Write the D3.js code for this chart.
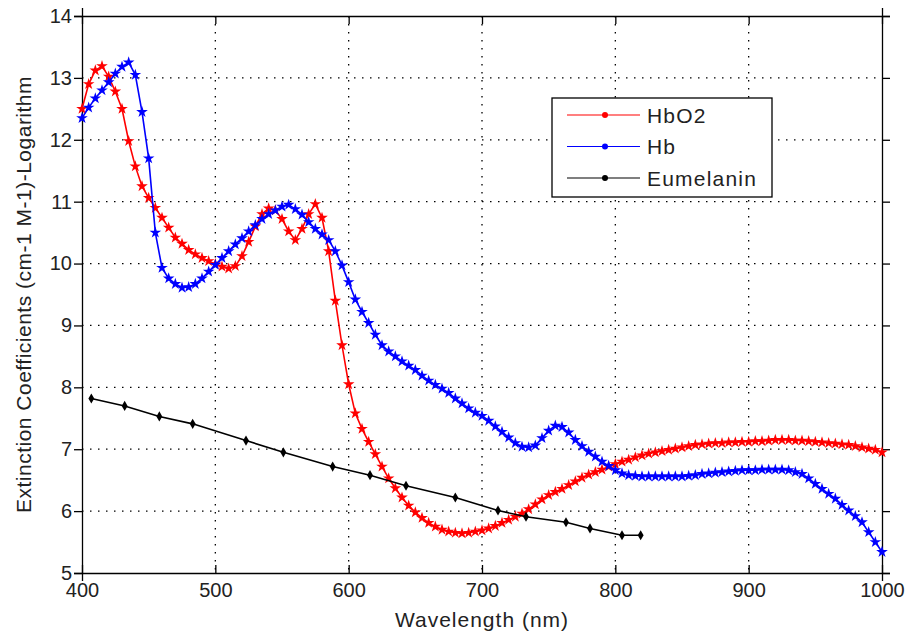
<!DOCTYPE html>
<html>
<head>
<meta charset="utf-8">
<script src="https://cdn.jsdelivr.net/npm/d3@7"></script>
<style>
  body { margin: 0; background: #fff; }
  svg { font-family: "Liberation Sans", Arial, sans-serif; }
</style>
</head>
<body>
<div class="container"></div>
<script>
const w = 907;
const h = 634;

const margin = { top: 16, right: 25, bottom: 61, left: 82 };

// sampling grid of the two haemoglobin curves (nm)
const wavelengths = d3.range(400, 1001, 5);

const hbo2 = [
  12.50, 12.90, 13.12, 13.19, 13.02, 12.78, 12.50, 11.98, 11.57, 11.25,
  11.06, 10.90, 10.74, 10.58, 10.42, 10.32, 10.22, 10.15, 10.09, 10.04,
  9.99, 9.95, 9.92, 9.96, 10.12, 10.35, 10.60, 10.80, 10.89, 10.86,
  10.72, 10.52, 10.38, 10.56, 10.80, 10.96, 10.74, 10.20, 9.40, 8.68,
  8.05, 7.58, 7.33, 7.12, 6.92, 6.72, 6.53, 6.37, 6.22, 6.09,
  5.98, 5.89, 5.81, 5.75, 5.70, 5.67, 5.65, 5.64, 5.65, 5.67,
  5.69, 5.72, 5.76, 5.81, 5.86, 5.91, 5.96, 6.03, 6.11, 6.19,
  6.26, 6.31, 6.36, 6.42, 6.48, 6.54, 6.59, 6.63, 6.67, 6.72,
  6.76, 6.80, 6.83, 6.87, 6.90, 6.93, 6.95, 6.97, 6.99, 7.01,
  7.03, 7.05, 7.07, 7.08, 7.09, 7.10, 7.10, 7.11, 7.11, 7.12,
  7.12, 7.13, 7.13, 7.14, 7.15, 7.15, 7.15, 7.14, 7.14, 7.13,
  7.12, 7.11, 7.10, 7.09, 7.08, 7.07, 7.05, 7.03, 7.01, 6.99,
  6.95
];

const hb = [
  12.35, 12.52, 12.67, 12.80, 12.93, 13.07, 13.18, 13.25, 13.05, 12.45,
  11.70, 10.50, 9.93, 9.76, 9.67, 9.61, 9.62, 9.67, 9.76, 9.87,
  9.98, 10.09, 10.20, 10.31, 10.41, 10.52, 10.62, 10.72, 10.80, 10.86,
  10.92, 10.95, 10.88, 10.79, 10.67, 10.56, 10.47, 10.38, 10.20, 9.97,
  9.70, 9.42, 9.22, 9.04, 8.85, 8.68, 8.58, 8.50, 8.42, 8.35,
  8.28, 8.19, 8.11, 8.04, 7.98, 7.91, 7.82, 7.74, 7.66, 7.59,
  7.54, 7.46, 7.37, 7.28, 7.19, 7.10, 7.04, 7.03, 7.06, 7.18,
  7.30, 7.38, 7.36, 7.27, 7.15, 7.05, 6.96, 6.88, 6.80, 6.73,
  6.66, 6.61, 6.58, 6.57, 6.56, 6.56, 6.56, 6.56, 6.56, 6.56,
  6.56, 6.57, 6.58, 6.60, 6.61, 6.62, 6.63, 6.64, 6.65, 6.66,
  6.66, 6.66, 6.67, 6.67, 6.67, 6.67, 6.66, 6.63, 6.60, 6.53,
  6.44, 6.36, 6.28, 6.20, 6.10, 6.01, 5.92, 5.82, 5.66, 5.50,
  5.34
];

const eumWl = [407, 432, 458, 483, 523, 551, 588, 616, 643, 680, 712, 733, 763, 781, 805, 819];
const eumVal = [7.82, 7.70, 7.53, 7.41, 7.14, 6.95, 6.72, 6.58, 6.41, 6.22, 6.01, 5.91, 5.82, 5.72, 5.61, 5.61];

const xTicks = [400, 500, 600, 700, 800, 900, 1000];
const yTicks = [5, 6, 7, 8, 9, 10, 11, 12, 13, 14];

const series = [
  { name: 'HbO2', color: '#ff0000', pts: wavelengths.map((d, i) => [d, hbo2[i]]), sym: d3.symbolStar, size: 42 },
  { name: 'Hb', color: '#0000ff', pts: wavelengths.map((d, i) => [d, hb[i]]), sym: d3.symbolStar, size: 42 },
  { name: 'Eumelanin', color: '#000000', pts: eumWl.map((d, i) => [d, eumVal[i]]), sym: d3.symbolDiamond, size: 30 }
];

const x = d3.scaleLinear().domain([400, 1000]).range([margin.left, w - margin.right]);
const y = d3.scaleLinear().domain([5, 14]).range([h - margin.bottom, margin.top]);

const svg = d3.select('.container')
  .append('svg')
  .attr('width', w)
  .attr('height', h);

// dotted grid
svg.append('g')
  .selectAll('line')
  .data(xTicks.slice(1, -1))
  .join('line')
  .attr('x1', d => x(d)).attr('x2', d => x(d))
  .attr('y1', y(14)).attr('y2', y(5))
  .attr('stroke', '#000')
  .attr('stroke-width', 1.3)
  .attr('stroke-dasharray', '1.5,6.5');

svg.append('g')
  .selectAll('line')
  .data(yTicks.slice(1, -1))
  .join('line')
  .attr('x1', x(400)).attr('x2', x(1000))
  .attr('y1', d => y(d)).attr('y2', d => y(d))
  .attr('stroke', '#000')
  .attr('stroke-width', 1.3)
  .attr('stroke-dasharray', '1.5,6.5');

// axes: ticks inside, box on all four sides
const tickLen = 8;
const axes = [
  d3.axisBottom(x).tickValues(xTicks).tickSize(tickLen).tickFormat(d3.format('d')),
  d3.axisTop(x).tickValues(xTicks).tickSize(tickLen).tickFormat(''),
  d3.axisLeft(y).tickValues(yTicks).tickSize(tickLen).tickFormat(d3.format('d')),
  d3.axisRight(y).tickValues(yTicks).tickSize(tickLen).tickFormat('')
];
const pos = [
  `translate(0,${y(5)})`, `translate(0,${y(14)})`,
  `translate(${x(400)},0)`, `translate(${x(1000)},0)`
];

axes.forEach((ax, i) => {
  const g = svg.append('g').attr('transform', pos[i]).call(ax);
  g.select('.domain').attr('stroke', '#000').attr('stroke-width', 1.3);
  g.selectAll('.tick line')
    .attr('stroke', '#000')
    .attr('stroke-width', 1.3)
    .attr(i < 2 ? 'y2' : 'x2', (i === 0 || i === 2) ? -tickLen : tickLen);
  g.selectAll('.tick text')
    .style('font-size', '20px')
    .attr('fill', '#222');
  if (i === 0) g.selectAll('.tick text').attr('y', 10).attr('dy', '0.71em');
  if (i === 2) g.selectAll('.tick text').attr('x', -10);
});

// curves
const line = d3.line().x(d => x(d[0])).y(d => y(d[1]));

series.forEach(s => {
  svg.append('path')
    .datum(s.pts)
    .attr('fill', 'none')
    .attr('stroke', s.color)
    .attr('stroke-width', 1.6)
    .attr('d', line);

  svg.append('g')
    .selectAll('path')
    .data(s.pts)
    .join('path')
    .attr('transform', d => `translate(${x(d[0])},${y(d[1])})`)
    .attr('d', d3.symbol().type(s.sym).size(s.size))
    .attr('fill', s.color);
});

// axis labels
svg.append('text')
  .attr('x', (x(400) + x(1000)) / 2)
  .attr('y', 627)
  .attr('text-anchor', 'middle')
  .style('font-size', '21px')
  .style('letter-spacing', '1px')
  .attr('fill', '#222')
  .text('Wavelength (nm)');

svg.append('text')
  .attr('transform', `translate(31,${(y(5) + y(14)) / 2}) rotate(-90)`)
  .attr('text-anchor', 'middle')
  .style('font-size', '21px')
  .style('letter-spacing', '0.5px')
  .attr('fill', '#222')
  .text('Extinction Coefficients (cm-1 M-1)-Logarithm');

// legend
const legend = svg.append('g').attr('transform', 'translate(552,98)');
legend.append('rect')
  .attr('width', 220)
  .attr('height', 99)
  .attr('fill', '#fff')
  .attr('stroke', '#000')
  .attr('stroke-width', 1.3);

const entry = legend.selectAll('g.entry')
  .data(series)
  .join('g')
  .attr('class', 'entry')
  .attr('transform', (d, i) => `translate(0,${17 + i * 31.5})`);

entry.append('line')
  .attr('x1', 15).attr('x2', 88)
  .attr('stroke', d => d.color)
  .attr('stroke-width', 1.2);

entry.append('circle')
  .attr('cx', 53)
  .attr('r', 3)
  .attr('fill', d => d.color);

entry.append('text')
  .attr('x', 95)
  .attr('dy', '0.36em')
  .style('font-size', '21px')
  .style('letter-spacing', '1.2px')
  .attr('fill', '#222')
  .text(d => d.name);
</script>
</body>
</html>
